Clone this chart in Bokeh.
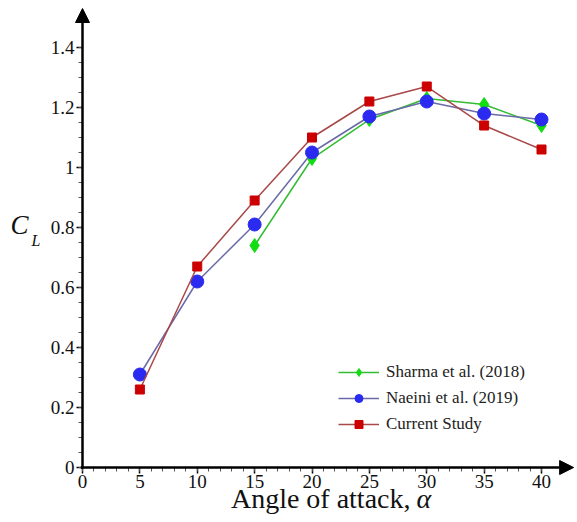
from bokeh.plotting import figure
from bokeh.models import Range1d, FixedTicker, CustomJSTickFormatter, Arrow, NormalHead, Label, Legend
from bokeh.embed import file_html
from bokeh.resources import INLINE

# data
angles_sharma = [15, 20, 25, 30, 35, 40]
cl_sharma = [0.74, 1.03, 1.16, 1.23, 1.21, 1.14]
angles_naeini = [5, 10, 15, 20, 25, 30, 35, 40]
cl_naeini = [0.31, 0.62, 0.81, 1.05, 1.17, 1.22, 1.18, 1.16]
angles_current = [5, 10, 15, 20, 25, 30, 35, 40]
cl_current = [0.26, 0.67, 0.89, 1.10, 1.22, 1.27, 1.14, 1.06]

x_major = [0, 5, 10, 15, 20, 25, 30, 35, 40]
x_minor = list(range(0, 41))
y_major = [0, 0.2, 0.4, 0.6, 0.8, 1.0, 1.2, 1.4]
y_minor = [round(i * 0.05, 2) for i in range(0, 29)]

FONT = "Liberation Serif"
W, H = 577, 522

# frame covers whole canvas; axes are fixed at data origin
p = figure(width=W, height=H, output_backend="svg", toolbar_location=None,
           x_range=Range1d(-7.146, 43.137), y_range=Range1d(-0.1833, 1.5567),
           min_border=0, min_border_left=0, min_border_right=0,
           min_border_top=0, min_border_bottom=0)
p.outline_line_color = None
p.grid.visible = False
p.background_fill_color = "white"
p.border_fill_color = "white"

p.axis.fixed_location = 0
p.axis.axis_line_color = None
p.axis.major_tick_in = 0
p.axis.major_tick_out = 6
p.axis.minor_tick_in = 0
p.axis.minor_tick_out = 4
p.axis.major_tick_line_width = 1.5
p.axis.minor_tick_line_width = 1
p.axis.major_tick_line_color = "black"
p.axis.minor_tick_line_color = "#555555"
p.axis.major_label_text_font = FONT
p.axis.major_label_text_font_style = "normal"
p.axis.major_label_text_font_size = "19px"
p.axis.major_label_text_color = "#111111"
p.axis.axis_label = None

p.xaxis[0].ticker = FixedTicker(ticks=x_major, minor_ticks=x_minor)
p.yaxis[0].ticker = FixedTicker(ticks=y_major, minor_ticks=y_minor)
p.yaxis[0].formatter = CustomJSTickFormatter(code="var s = tick.toFixed(1); return s.replace(/\\.0$/, '');")
p.xaxis[0].major_label_standoff = 1
p.yaxis[0].major_label_standoff = 2

# axes with arrow heads
p.add_layout(Arrow(end=NormalHead(size=14, fill_color="black", line_color="black"),
                   x_start=-0.15, y_start=0, x_end=42.8, y_end=0, line_width=2.5, line_color="black"))
p.add_layout(Arrow(end=NormalHead(size=14, fill_color="black", line_color="black"),
                   x_start=0, y_start=-0.004, x_end=0, y_end=1.53, line_width=2.5, line_color="black"))

# series
r1 = p.line(angles_sharma, cl_sharma, line_color="#33bb33", line_width=1.5)
s1 = p.scatter(angles_sharma, cl_sharma, marker="diamond", size=14,
               fill_color="#11dd11", line_color="#11dd11")
r2 = p.line(angles_naeini, cl_naeini, line_color="#6a6aa8", line_width=1.5)
s2 = p.scatter(angles_naeini, cl_naeini, marker="circle", size=13, fill_color="#2a2af0", line_color="#2a2af0")
r3 = p.line(angles_current, cl_current, line_color="#a84848", line_width=1.5)
s3 = p.scatter(angles_current, cl_current, marker="square", size=9, fill_color="#cc0000", line_color="#cc0000")

legend = Legend(items=[("Sharma et al. (2018)", [r1, s1]),
                       ("Naeini et al. (2019)", [r2, s2]),
                       ("Current Study", [r3, s3])],
                location=(338, 88), label_text_font=FONT, label_text_font_size="17px",
                label_text_color="#222222", label_standoff=7,
                glyph_width=41, glyph_height=20, label_height=20, spacing=6,
                padding=0, margin=0, border_line_color=None, background_fill_alpha=0)
p.add_layout(legend)

# axis titles (screen px from bottom-left of canvas)
p.add_layout(Label(x=10, y=H - 239, x_units="screen", y_units="screen", text="C",
                   text_font=FONT, text_font_style="italic", text_font_size="27px",
                   text_color="#111111"))
p.add_layout(Label(x=31, y=H - 248, x_units="screen", y_units="screen", text="L",
                   text_font=FONT, text_font_style="italic", text_font_size="16px",
                   text_color="#111111"))
p.add_layout(Label(x=410, y=H - 513, x_units="screen", y_units="screen", text="Angle of attack,",
                   text_align="right", text_font=FONT, text_font_size="28px", text_color="#111111"))
p.add_layout(Label(x=416, y=H - 513, x_units="screen", y_units="screen", text="α",
                   text_align="left", text_font=FONT, text_font_style="italic",
                   text_font_size="28px", text_color="#111111"))

open("out.html", "w").write(file_html(p, INLINE))
